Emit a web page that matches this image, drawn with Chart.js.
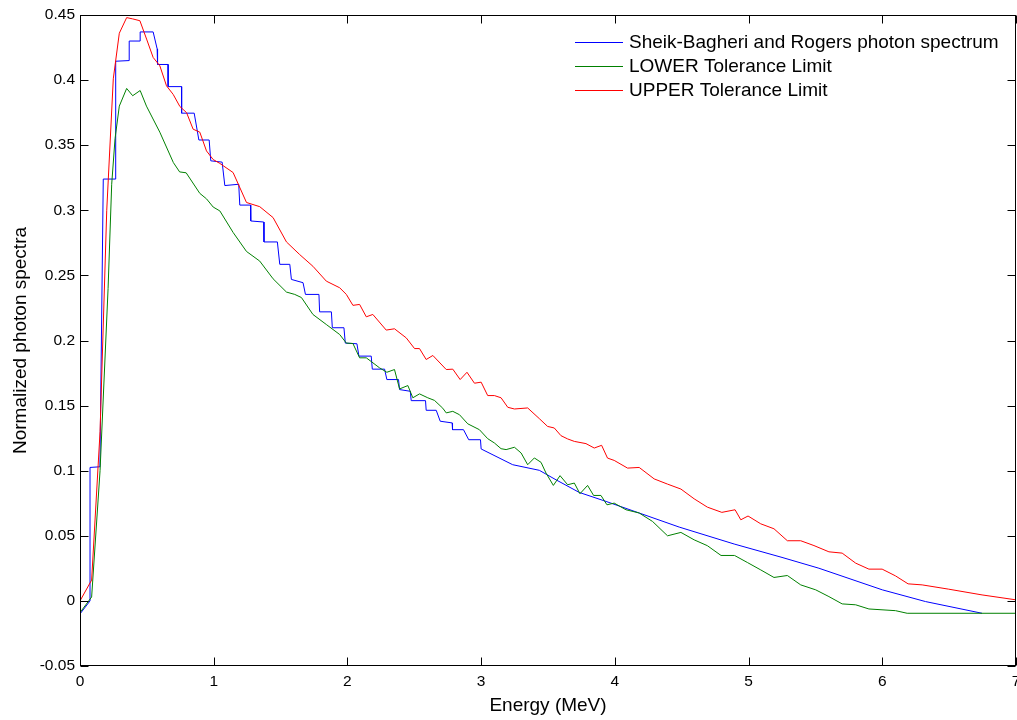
<!DOCTYPE html>
<html>
<head>
  <title>Normalized photon spectra</title>
  <script src="https://cdn.jsdelivr.net/npm/chart.js"></script>
  <style>
    body {
      margin: 0;
      background-color: #ffffff;
    }
  </style>
</head>
<body>
  <canvas id="grafico" width="1017" height="720"></canvas>

  <script>
    // series names (legend order)
    var nomes = ["Sheik-Bagheri and Rogers photon spectrum", "LOWER Tolerance Limit", "UPPER Tolerance Limit"];
    var cores = ["#0000ff", "#008000", "#ff0000"];

    // Sheik-Bagheri and Rogers (stairs), energy in MeV
    var espectroX = [0, 0.075, 0.075, 0.149, 0.174, 0.267, 0.267, 0.368, 0.368, 0.450, 0.450, 0.547, 0.577, 0.580, 0.659, 0.659, 0.760, 0.760, 0.854, 0.889,
      0.966, 0.978, 1.063, 1.083, 1.187, 1.195, 1.275, 1.277, 1.374, 1.376, 1.476, 1.494, 1.569, 1.581, 1.668, 1.686, 1.787, 1.792, 1.880, 1.887,
      1.974, 1.984, 2.071, 2.086, 2.178, 2.186, 2.278, 2.295, 2.382, 2.390, 2.470, 2.477, 2.584, 2.589, 2.664, 2.694, 2.783, 2.786, 2.868, 2.907,
      2.995, 3.000, 3.236, 3.435, 3.560, 3.734, 3.934, 4.182, 4.481, 4.892, 5.250, 5.526, 6.000, 6.323, 6.746];
    var espectroY = [-0.010, 0.000, 0.1025, 0.103, 0.324, 0.324, 0.4145, 0.415, 0.430, 0.430, 0.437, 0.437, 0.424, 0.412, 0.412, 0.395, 0.395, 0.3746, 0.3746, 0.354,
      0.354, 0.338, 0.337, 0.319, 0.320, 0.304, 0.304, 0.2918, 0.291, 0.2757, 0.2757, 0.2585, 0.2585, 0.2469, 0.2444, 0.2354, 0.2354, 0.222, 0.222, 0.2098,
      0.2098, 0.198, 0.1975, 0.188, 0.188, 0.178, 0.178, 0.170, 0.170, 0.1623, 0.161, 0.1538, 0.1538, 0.1464, 0.1464, 0.138, 0.1367, 0.1315, 0.1315, 0.1238,
      0.1238, 0.1167, 0.1046, 0.1003, 0.093, 0.0833, 0.0764, 0.0675, 0.0567, 0.0437, 0.0334, 0.0251, 0.0085, -0.0005, -0.0095];

    // LOWER tolerance limit
    var inferiorX = [0, 0.087, 0.15, 0.21, 0.237, 0.262, 0.294, 0.349, 0.394, 0.450, 0.497, 0.597, 0.698, 0.745, 0.794, 0.896, 0.946, 0.996, 1.046, 1.145,
      1.245, 1.344, 1.444, 1.544, 1.606, 1.656, 1.742, 1.842, 1.942, 1.992, 2.041, 2.091, 2.141, 2.240, 2.295, 2.352, 2.390, 2.452, 2.489, 2.539,
      2.601, 2.651, 2.713, 2.739, 2.788, 2.838, 2.900, 2.987, 3.049, 3.099, 3.149, 3.187, 3.249, 3.299, 3.348, 3.398, 3.448, 3.485, 3.540, 3.590,
      3.647, 3.697, 3.739, 3.796, 3.841, 3.896, 3.941, 3.995, 4.083, 4.182, 4.282, 4.394, 4.494, 4.593, 4.692, 4.794, 4.895, 4.991, 5.091, 5.190,
      5.290, 5.390, 5.502, 5.601, 5.700, 5.801, 5.900, 6.099, 6.186, 7.0];
    var inferiorY = [-0.009, 0.003, 0.10, 0.24, 0.32, 0.355, 0.380, 0.3936, 0.388, 0.392, 0.380, 0.360, 0.3367, 0.3295, 0.3288, 0.313, 0.3088, 0.3025, 0.2995, 0.283,
      0.2684, 0.261, 0.2474, 0.2372, 0.2354, 0.233, 0.220, 0.2123, 0.2046, 0.198, 0.1977, 0.1867, 0.1867, 0.179, 0.1756, 0.1777, 0.1628, 0.1654, 0.156, 0.159,
      0.156, 0.154, 0.148, 0.1444, 0.1456, 0.143, 0.136, 0.1315, 0.1246, 0.1213, 0.1169, 0.1162, 0.118, 0.1136, 0.1046, 0.1098, 0.1064, 0.0982, 0.0887, 0.0962,
      0.0892, 0.0905, 0.0823, 0.0887, 0.081, 0.081, 0.0738, 0.0751, 0.070, 0.0675, 0.061, 0.050, 0.0526, 0.0469, 0.0424, 0.0349, 0.0349, 0.0295, 0.0238, 0.018,
      0.0195, 0.0123, 0.0085, 0.0033, -0.0023, -0.003, -0.0062, -0.0075, -0.0095, -0.0095];

    // UPPER tolerance limit
    var superiorX = [0, 0.087, 0.15, 0.20, 0.249, 0.294, 0.349, 0.394, 0.448, 0.498, 0.547, 0.597, 0.647, 0.697, 0.747, 0.797, 0.846, 0.896, 0.946, 0.996,
      1.046, 1.145, 1.245, 1.344, 1.444, 1.544, 1.643, 1.742, 1.842, 1.942, 1.992, 2.041, 2.091, 2.141, 2.190, 2.290, 2.352, 2.440, 2.502, 2.539,
      2.589, 2.639, 2.739, 2.788, 2.843, 2.894, 2.950, 3.000, 3.049, 3.099, 3.149, 3.199, 3.249, 3.348, 3.435, 3.497, 3.547, 3.597, 3.647, 3.697,
      3.784, 3.846, 3.901, 3.945, 3.995, 4.095, 4.182, 4.294, 4.394, 4.494, 4.593, 4.692, 4.800, 4.899, 4.942, 4.996, 5.091, 5.190, 5.290, 5.390,
      5.489, 5.601, 5.700, 5.801, 5.900, 5.999, 6.099, 6.193, 6.298, 6.497, 6.746, 7.0];
    var superiorY = [0, 0.016, 0.13, 0.30, 0.401, 0.436, 0.448, 0.447, 0.4456, 0.4315, 0.4174, 0.411, 0.3956, 0.389, 0.3797, 0.375, 0.3623, 0.360, 0.3456, 0.339,
      0.336, 0.329, 0.306, 0.3028, 0.2944, 0.2757, 0.266, 0.257, 0.2456, 0.2405, 0.2354, 0.227, 0.2277, 0.2182, 0.220, 0.208, 0.209, 0.202, 0.1938, 0.1938,
      0.1854, 0.1885, 0.1777, 0.178, 0.170, 0.1756, 0.1672, 0.168, 0.1577, 0.1577, 0.156, 0.1487, 0.1474, 0.1482, 0.140, 0.134, 0.1328, 0.1269, 0.1244, 0.1225,
      0.1208, 0.1174, 0.1195, 0.1097, 0.1079, 0.102, 0.1025, 0.0937, 0.0897, 0.0859, 0.0784, 0.072, 0.068, 0.070, 0.0623, 0.0652, 0.0592, 0.0554, 0.0462, 0.0462,
      0.0425, 0.0377, 0.0367, 0.029, 0.0244, 0.0244, 0.0192, 0.0131, 0.0123, 0.009, 0.0046, 0.0008];

    // axes
    var eixoX = { min: 0, max: 7, passo: 1, titulo: "Energy (MeV)" };
    var eixoY = { min: -0.05, max: 0.45, passo: 0.05, titulo: "Normalized photon spectra" };

    function pontos(xs, ys) {
      var p = [];
      for (var i = 0; i < xs.length; i++) p.push({ x: xs[i], y: ys[i] });
      return p;
    }

    var fonte = "'Liberation Sans', Arial, sans-serif";
    Chart.defaults.font.family = fonte;
    Chart.defaults.color = "#000000";

    // box with inward ticks, matlab style
    var moldura = {
      id: "moldura",
      afterDatasetsDraw: function (chart) {
        var c = chart.ctx, a = chart.chartArea;
        var sx = chart.scales.x, sy = chart.scales.y;
        var L = Math.round(a.left) + 0.5, R = Math.round(a.right) - 0.5;
        var T = Math.round(a.top) + 0.5, B = Math.round(a.bottom) - 0.5;
        c.save();
        c.strokeStyle = "#000000";
        c.lineWidth = 1;
        c.strokeRect(L, T, R - L, B - T);
        c.beginPath();
        sx.ticks.forEach(function (t) {
          var px = Math.round(sx.getPixelForValue(t.value)) + 0.5;
          c.moveTo(px, B); c.lineTo(px, B - 8);
          c.moveTo(px, T); c.lineTo(px, T + 8);
        });
        sy.ticks.forEach(function (t) {
          var py = Math.round(sy.getPixelForValue(t.value)) + 0.5;
          c.moveTo(L, py); c.lineTo(L + 8, py);
          c.moveTo(R, py); c.lineTo(R - 8, py);
        });
        c.stroke();
        c.restore();
      }
    };

    // legend without box, top right
    var legenda = {
      id: "legenda",
      afterDraw: function (chart) {
        var c = chart.ctx;
        c.save();
        c.font = "19px " + fonte;
        c.textBaseline = "middle";
        c.fillStyle = "#000000";
        chart.data.datasets.forEach(function (ds, i) {
          var y = 42 + i * 24;
          c.strokeStyle = ds.borderColor;
          c.lineWidth = 1;
          c.beginPath();
          c.moveTo(575, y + 0.5);
          c.lineTo(623, y + 0.5);
          c.stroke();
          c.fillText(ds.label, 629, y + 1);
        });
        c.restore();
      }
    };

    var ctx = document.getElementById("grafico").getContext("2d");
    var chart = new Chart(ctx, {
      type: "scatter",
      data: {
        datasets: [
          { label: nomes[0], data: pontos(espectroX, espectroY), borderColor: cores[0], order: 3 },
          { label: nomes[1], data: pontos(inferiorX, inferiorY), borderColor: cores[1], order: 2 },
          { label: nomes[2], data: pontos(superiorX, superiorY), borderColor: cores[2], order: 1 }
        ]
      },
      options: {
        responsive: false,
        animation: false,
        showLine: true,
        elements: {
          point: { radius: 0 },
          line: { borderWidth: 1, tension: 0 }
        },
        layout: { autoPadding: false, padding: { left: 0, right: 1, top: 15, bottom: 0 } },
        plugins: { legend: { display: false }, tooltip: { enabled: false } },
        scales: {
          x: {
            type: "linear",
            min: eixoX.min, max: eixoX.max,
            grid: { display: false, drawTicks: false },
            border: { display: false },
            ticks: { stepSize: eixoX.passo, padding: 6, maxRotation: 0, font: { size: 15.5 } },
            title: { display: true, text: eixoX.titulo, font: { size: 19 }, padding: { top: 0, bottom: 3 } },
            afterFit: function (s) { s.height = 54; s.paddingLeft = 0; s.paddingRight = 0; }
          },
          y: {
            min: eixoY.min, max: eixoY.max,
            grid: { display: false, drawTicks: false },
            border: { display: false },
            ticks: {
              stepSize: eixoY.passo, padding: 5, font: { size: 15.5 },
              callback: function (v) { return String(Number(v.toFixed(2))); }
            },
            title: { display: true, text: eixoY.titulo, font: { size: 19 }, padding: { top: 9, bottom: 0 } },
            afterFit: function (s) { s.width = 80; s.paddingTop = 0; s.paddingBottom = 0; }
          }
        }
      },
      plugins: [moldura, legenda]
    });
  </script>
</body>
</html>
